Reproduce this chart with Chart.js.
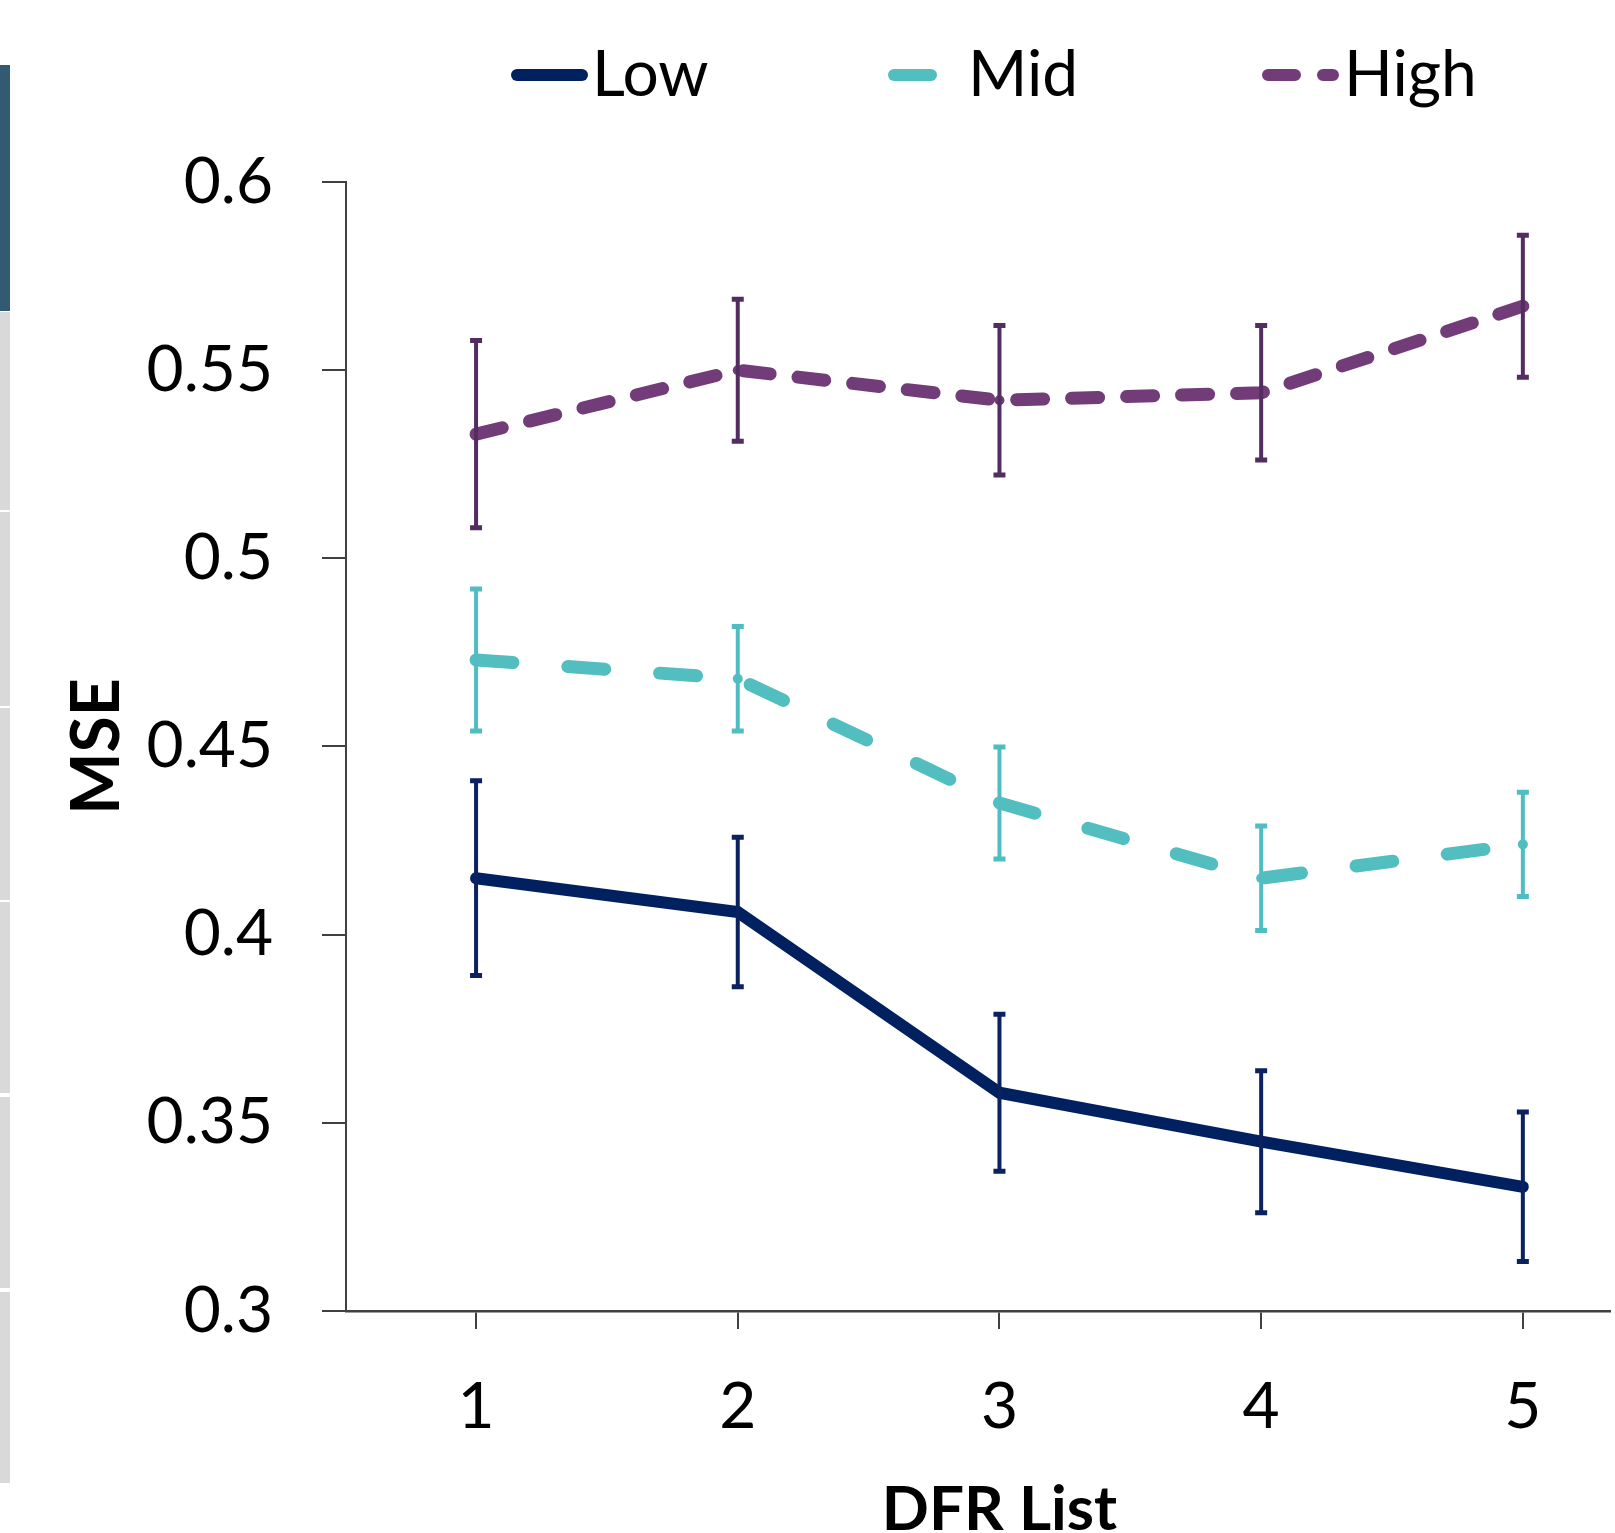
<!DOCTYPE html>
<html>
<head>
<meta charset="utf-8">
<script src="https://cdn.jsdelivr.net/npm/chart.js@4.4.1/dist/chart.umd.min.js"></script>
<style>
html,body{margin:0;padding:0;background:#fff;overflow:hidden;}
#wrap{position:relative;width:1615px;height:1533px;}
#c{position:absolute;left:0;top:0;}
.strip{position:absolute;left:0;width:10px;}
</style>
</head>
<body>
<div id="wrap">
<canvas id="c" width="1615" height="1533"></canvas>
<div class="strip" style="top:65px;height:246px;background:#335a73"></div>
<div class="strip" style="top:312px;height:198px;background:#d9d9d9"></div>
<div class="strip" style="top:512px;height:194px;background:#d9d9d9"></div>
<div class="strip" style="top:708px;height:192px;background:#d9d9d9"></div>
<div class="strip" style="top:902px;height:191px;background:#d9d9d9"></div>
<div class="strip" style="top:1097px;height:191px;background:#d9d9d9"></div>
<div class="strip" style="top:1292px;height:191px;background:#d9d9d9"></div>
</div>
<script>
// ---- data ----
const categories = [1, 2, 3, 4, 5];
const seriesNames = ['Low', 'Mid', 'High'];
const lowMSE  = [0.415, 0.406, 0.358, 0.345, 0.333];
const lowSE   = [0.026, 0.020, 0.021, 0.019, 0.020];
const midMSE  = [0.473, 0.468, 0.435, 0.415, 0.424];
const midSE   = [0.019, 0.014, 0.015, 0.014, 0.014];
const highMSE = [0.533, 0.550, 0.542, 0.544, 0.567];
const highSE  = [0.025, 0.019, 0.020, 0.018, 0.019];
const yTickValues = [0.3, 0.35, 0.4, 0.45, 0.5, 0.55, 0.6];
const yTickLabels = ['0.3', '0.35', '0.4', '0.45', '0.5', '0.55', '0.6'];
const xTitle = 'DFR List';
const yTitle = 'MSE';

const FONT = 'Lato';
Chart.defaults.font.family = FONT;

function pts(vals){ return categories.map((c, i) => ({x: c, y: vals[i]})); }

const errorBars = {
  id: 'errorBars',
  afterDatasetsDraw(chart) {
    const {ctx, scales: {x, y}} = chart;
    chart.data.datasets.forEach(ds => {
      ctx.save();
      ctx.strokeStyle = ds.errColor;
      ctx.lineWidth = 4;
      ctx.lineCap = 'butt';
      ds.data.forEach((p, i) => {
        const px = x.getPixelForValue(p.x);
        const t = y.getPixelForValue(p.y + ds.err[i]);
        const b = y.getPixelForValue(p.y - ds.err[i]);
        ctx.beginPath();
        ctx.moveTo(px, t); ctx.lineTo(px, b);
        ctx.stroke();
        ctx.lineWidth = 5;
        ctx.beginPath();
        ctx.moveTo(px - 6, t + 0.5); ctx.lineTo(px + 6, t + 0.5);
        ctx.moveTo(px - 6, b - 0.5); ctx.lineTo(px + 6, b - 0.5);
        ctx.stroke();
        ctx.lineWidth = 4;
      });
      ctx.restore();
    });
  }
};

const legendPos = [
  {x0: 517, x1: 582, tx: 592},
  {x0: 894, x1: 931, tx: 968},
  {x0: 1268, x1: 1333, tx: 1344}
];
const customLegend = {
  id: 'customLegend',
  afterDraw(chart) {
    const {ctx, scales: {x}} = chart;
    const yL = 75;
    chart.data.datasets.forEach((ds, i) => {
      const p = legendPos[i];
      ctx.save();
      ctx.strokeStyle = ds.borderColor;
      ctx.lineWidth = 12;
      ctx.lineCap = 'round';
      ctx.setLineDash(ds.borderDash || []);
      ctx.beginPath();
      ctx.moveTo(p.x0, yL); ctx.lineTo(p.x1, yL);
      ctx.stroke();
      ctx.setLineDash([]);
      ctx.fillStyle = '#000';
      ctx.font = '64px ' + FONT;
      ctx.textBaseline = 'middle';
      ctx.textAlign = 'left';
      ctx.fillText(ds.label, p.tx, yL);
      ctx.restore();
    });
    // x-axis title, centred under the middle category
    const mid = categories[Math.floor(categories.length / 2)];
    ctx.save();
    ctx.fillStyle = '#000';
    ctx.font = 'bold 62px ' + FONT;
    ctx.textAlign = 'center';
    ctx.textBaseline = 'middle';
    ctx.fillText(xTitle, x.getPixelForValue(mid), 1510);
    ctx.restore();
  }
};

new Chart(document.getElementById('c'), {
  type: 'line',
  data: {
    datasets: [
      {label: seriesNames[0], data: pts(lowMSE), err: lowSE, errColor: '#0b2160',
       borderColor: '#002060', backgroundColor: '#002060', borderWidth: 12,
       pointRadius: 5, pointBorderWidth: 0, tension: 0, borderCapStyle: 'round', borderJoinStyle: 'miter'},
      {label: seriesNames[1], data: pts(midMSE), err: midSE, errColor: '#4fbdc1',
       borderColor: '#53bec0', backgroundColor: '#53bec0', borderWidth: 13, borderDash: [37, 55],
       pointRadius: 5, pointBorderWidth: 0, tension: 0, borderCapStyle: 'round'},
      {label: seriesNames[2], data: pts(highMSE), err: highSE, errColor: '#532c61',
       borderColor: '#723c78', backgroundColor: '#723c78', borderWidth: 13, borderDash: [27, 28],
       pointRadius: 5, pointBorderWidth: 0, tension: 0, borderCapStyle: 'round'}
    ]
  },
  options: {
    responsive: false,
    animation: false,
    layout: {padding: {top: 182, left: 0, right: 0, bottom: 0}},
    plugins: {legend: {display: false}, tooltip: {enabled: false}},
    scales: {
      x: {
        type: 'linear', min: 0.503, max: 5.333,
        afterBuildTicks: s => { s.ticks = categories.map(v => ({value: v})); },
        afterFit: s => { s.height = 222; },
        grid: {drawOnChartArea: false, drawTicks: true, tickLength: 18, color: '#404040', lineWidth: 2},
        border: {display: true, color: '#404040', width: 2.5},
        ticks: {font: {size: 64}, color: '#000', padding: 40, maxRotation: 0, autoSkip: false,
                callback: v => String(v)},
        title: {display: false}
      },
      y: {
        type: 'linear', min: 0.3, max: 0.6,
        afterBuildTicks: s => { s.ticks = yTickValues.map(v => ({value: v})); },
        afterFit: s => { s.width = 346; },
        grid: {drawOnChartArea: false, drawTicks: true, tickLength: 24, color: '#404040', lineWidth: 2},
        border: {display: true, color: '#404040', width: 2},
        ticks: {font: {size: 64}, color: '#000', padding: 49,
                callback: (v) => yTickLabels[yTickValues.indexOf(v)] ?? String(v)},
        title: {display: true, text: yTitle, color: '#000', padding: {top: 58, bottom: 0},
                font: {size: 66, weight: 'bold', lineHeight: 1.2}}
      }
    }
  },
  plugins: [errorBars, customLegend]
});
</script>
</body>
</html>
